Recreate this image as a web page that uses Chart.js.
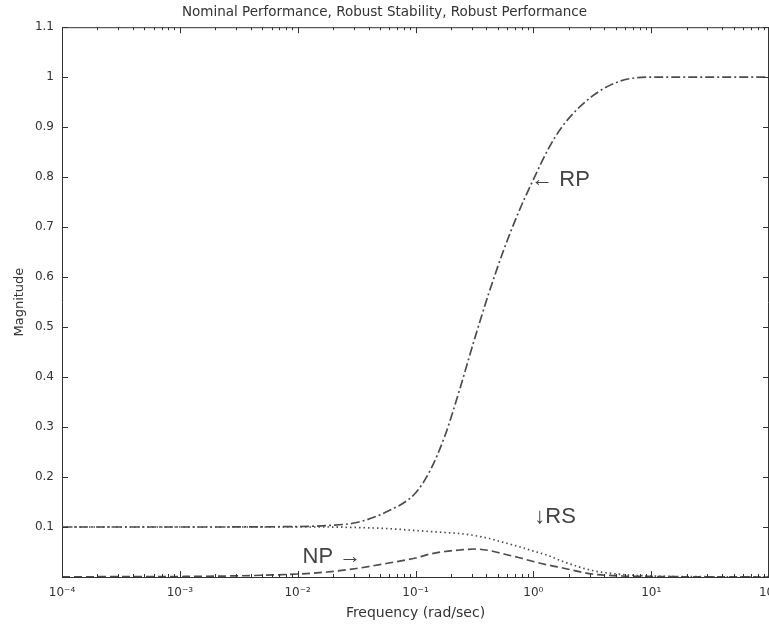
<!DOCTYPE html>
<html lang="en">
<head>
  <meta charset="UTF-8">
  <title>Nominal Performance, Robust Stability, Robust Performance</title>
  <script src="https://cdn.jsdelivr.net/npm/chart.js"></script>
  <style>
    body {
      margin: 0;
      background: #fff;
    }
    #wrap {
      width: 769px;
      height: 625px;
    }
  </style>
</head>
<body>
  <div id="wrap"><canvas id="muChart" width="769" height="625"></canvas></div>

  <script>
    const freq = [1e-4, 1e-3, 1e-2, 0.0178, 0.0316, 0.0562, 0.1, 0.133, 0.178, 0.237, 0.316,
                  0.422, 0.562, 0.75, 1, 1.33, 1.78, 3.16, 5.62, 10, 31.6, 100];
    const rp = [0.1, 0.1, 0.101, 0.103, 0.109, 0.13, 0.168, 0.213, 0.283, 0.375, 0.475,
                0.57, 0.655, 0.73, 0.795, 0.855, 0.903, 0.962, 0.993, 1.0, 1.0, 1.0];
    const rs = [0.1, 0.1, 0.1, 0.1, 0.099, 0.097, 0.093, 0.091, 0.089, 0.087, 0.083,
                0.077, 0.069, 0.061, 0.052, 0.043, 0.031, 0.013, 0.005, 0.002, 0.0005, 0];
    const np = [0.0005, 0.001, 0.006, 0.01, 0.017, 0.027, 0.038, 0.046, 0.051, 0.054, 0.056,
                0.053, 0.046, 0.039, 0.031, 0.024, 0.018, 0.006, 0.002, 0.001, 0.0003, 0];

    const xTicks = [1e-4, 1e-3, 1e-2, 1e-1, 1, 10, 100];
    const xTickLabels = ['10\u207B\u2074', '10\u207B\u00B3', '10\u207B\u00B2', '10\u207B\u00B9', '10\u2070', '10\u00B9', '10\u00B2'];
    const yTicks = [0.1, 0.2, 0.3, 0.4, 0.5, 0.6, 0.7, 0.8, 0.9, 1.0, 1.1];
    const yTickLabels = ['0.1', '0.2', '0.3', '0.4', '0.5', '0.6', '0.7', '0.8', '0.9', '1', '1.1'];

    // curve labels, anchored in data coordinates (left edge of text)
    const notes = [
      { text: '\u2190 RP', x: 0.96, y: 0.795 },
      { text: '\u2193RS', x: 1.02, y: 0.12 },
      { text: 'NP \u2192', x: 0.011, y: 0.04 }
    ];

    const ink = '#333';
    const lineInk = '#4d4d4d';

    const toPoints = ys => freq.map((f, i) => ({ x: f, y: ys[i] }));

    // matlab style box with inward ticks, plus the text labels
    const boxAndNotes = {
      id: 'boxAndNotes',
      afterDraw(chart) {
        const { ctx, chartArea: a, scales: { x, y } } = chart;
        ctx.save();
        ctx.strokeStyle = ink;
        ctx.lineWidth = 1;
        ctx.beginPath();
        ctx.moveTo(a.left, a.top + 0.5);
        ctx.lineTo(a.right - 0.5, a.top + 0.5);
        ctx.lineTo(a.right - 0.5, a.bottom);
        for (let e = -4; e <= 2; e++) {
          for (let m = 1; m <= 9; m++) {
            const v = m * Math.pow(10, e);
            if (v > 100) break;
            const len = m === 1 ? 6 : 3;
            const px = Math.round(x.getPixelForValue(v)) + 0.5;
            ctx.moveTo(px, a.bottom);
            ctx.lineTo(px, a.bottom - len);
            ctx.moveTo(px, a.top);
            ctx.lineTo(px, a.top + len);
          }
        }
        yTicks.forEach(v => {
          const py = Math.round(y.getPixelForValue(v)) + 0.5;
          ctx.moveTo(a.left, py);
          ctx.lineTo(a.left + 6, py);
          ctx.moveTo(a.right, py);
          ctx.lineTo(a.right - 6, py);
        });
        ctx.stroke();

        ctx.fillStyle = '#444';
        ctx.font = '22px "Liberation Sans", Arial, sans-serif';
        ctx.textBaseline = 'middle';
        ctx.textAlign = 'left';
        notes.forEach(n => {
          ctx.fillText(n.text, x.getPixelForValue(n.x), y.getPixelForValue(n.y));
        });
        ctx.restore();
      }
    };

    const ctx = document.getElementById('muChart').getContext('2d');
    new Chart(ctx, {
      type: 'line',
      data: {
        datasets: [
          {
            label: 'RP',
            data: toPoints(rp),
            borderColor: lineInk,
            borderWidth: 1.7,
            borderDash: [9, 3, 2, 3],
            pointRadius: 0,
            cubicInterpolationMode: 'monotone'
          },
          {
            label: 'RS',
            data: toPoints(rs),
            borderColor: lineInk,
            borderWidth: 1.7,
            borderDash: [1.5, 3],
            pointRadius: 0,
            cubicInterpolationMode: 'monotone'
          },
          {
            label: 'NP',
            data: toPoints(np),
            borderColor: lineInk,
            borderWidth: 1.7,
            borderDash: [8, 4],
            pointRadius: 0,
            cubicInterpolationMode: 'monotone'
          }
        ]
      },
      options: {
        responsive: false,
        animation: false,
        layout: { padding: 0 },
        plugins: {
          legend: { display: false },
          tooltip: { enabled: false },
          title: {
            display: true,
            text: 'Nominal Performance, Robust Stability, Robust Performance',
            color: ink,
            font: { family: 'DejaVu Sans', size: 13.5, weight: 'normal' },
            padding: { top: 4, bottom: 7 }
          }
        },
        scales: {
          x: {
            type: 'logarithmic',
            min: 1e-4,
            max: 100,
            grid: { display: false, drawTicks: false },
            border: { display: true, color: ink, width: 1 },
            afterBuildTicks: s => { s.ticks = xTicks.map(v => ({ value: v })); },
            afterFit: s => { s.height = 48; s.paddingLeft = 0; s.paddingRight = 0; },
            ticks: {
              autoSkip: false,
              maxRotation: 0,
              padding: 9,
              color: ink,
              font: { family: 'DejaVu Sans', size: 12 },
              callback: (v, i) => xTickLabels[i]
            },
            title: {
              display: true,
              text: 'Frequency (rad/sec)',
              color: ink,
              font: { family: 'DejaVu Sans', size: 14 },
              padding: { top: 0, bottom: 3 }
            }
          },
          y: {
            min: 0,
            max: 1.1,
            grid: { display: false, drawTicks: false },
            border: { display: true, color: ink, width: 1 },
            afterBuildTicks: s => { s.ticks = yTicks.map(v => ({ value: v })); },
            afterFit: s => { s.width = 62; },
            ticks: {
              padding: 8,
              color: ink,
              font: { family: 'DejaVu Sans', size: 12 },
              callback: (v, i) => yTickLabels[i]
            },
            title: {
              display: true,
              text: 'Magnitude',
              color: ink,
              font: { family: 'DejaVu Sans', size: 13 },
              padding: { top: 12, bottom: 0 }
            }
          }
        }
      },
      plugins: [boxAndNotes]
    });
  </script>
</body>
</html>
